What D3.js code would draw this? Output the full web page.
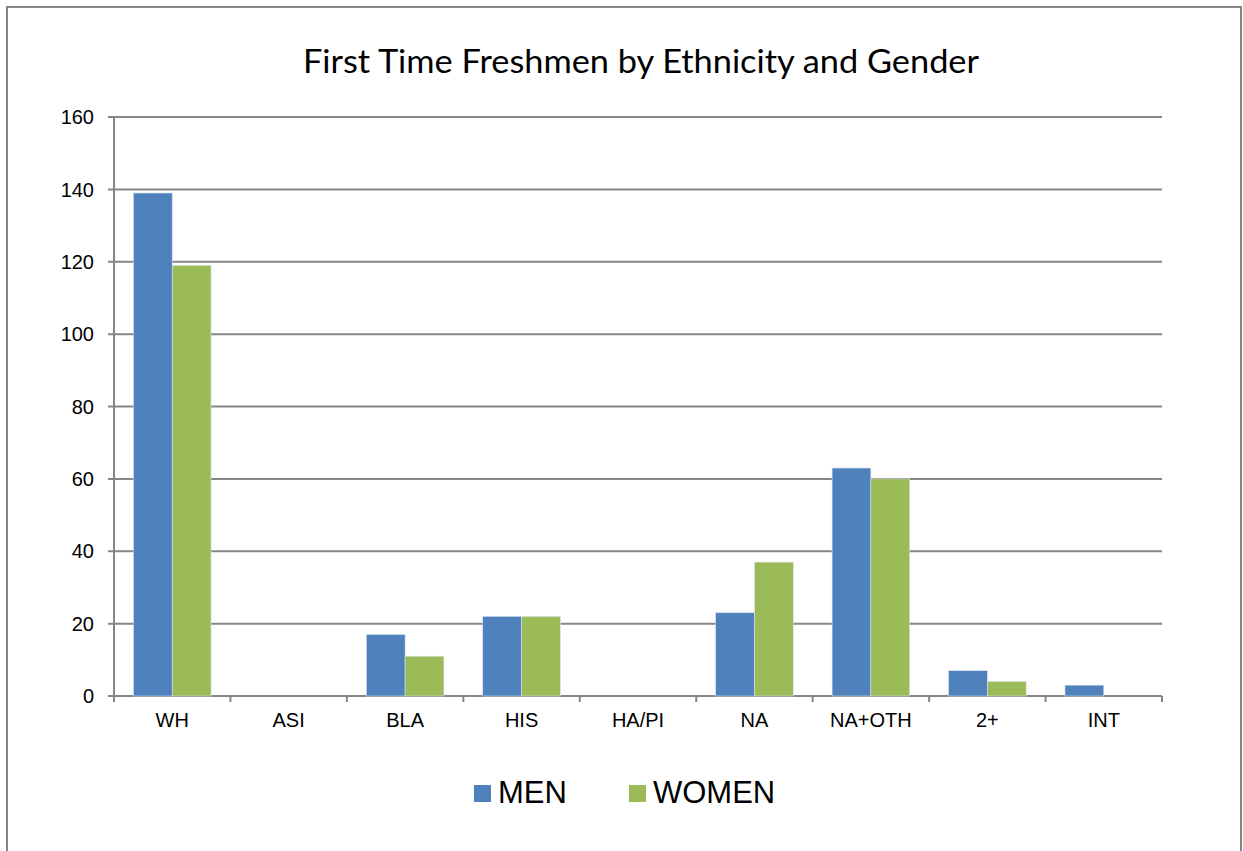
<!DOCTYPE html>
<html>
<head>
<meta charset="utf-8">
<script src="https://cdn.jsdelivr.net/npm/d3@7"></script>
<style>
  html, body { margin: 0; padding: 0; background: #fff; }
  svg { display: block; }
</style>
</head>
<body>
<div id="chart"></div>
<script>
const categories = ["WH", "ASI", "BLA", "HIS", "HA/PI", "NA", "NA+OTH", "2+", "INT"];
const menValues = [139, 0, 17, 22, 0, 23, 63, 7, 3];
const womenValues = [119, 0, 11, 22, 0, 37, 60, 4, 0];
const seriesNames = ["MEN", "WOMEN"];
const yTicks = [0, 20, 40, 60, 80, 100, 120, 140, 160];

const width = 1243;
const height = 851;
const margin = { top: 117, right: 81, bottom: 155, left: 114 };
const innerWidth = width - margin.left - margin.right;
const innerHeight = height - margin.top - margin.bottom;
const colors = ["#4F81BD", "#9BBB59"];
const gridColor = "#868686";
const labelFont = "'Liberation Sans', Arial, sans-serif";

const svg = d3
  .select("#chart")
  .append("svg")
  .attr("width", width)
  .attr("height", height);

// outer frame (bottom edge falls outside the picture)
svg
  .append("path")
  .attr("d", `M7,${height + 5} V7 H1241 V${height + 5}`)
  .attr("fill", "none")
  .attr("stroke", gridColor)
  .attr("stroke-width", 2);

svg
  .append("text")
  .attr("x", 303)
  .attr("y", 73)
  .attr("textLength", 676)
  .attr("lengthAdjust", "spacingAndGlyphs")
  .attr("font-family", "Lato, 'Open Sans', sans-serif")
  .attr("font-size", 33)
  .attr("fill", "#000")
  .text("First Time Freshmen by Ethnicity and Gender");

const root = svg
  .append("g")
  .attr("transform", `translate(${margin.left},${margin.top})`);

const x = d3.scaleBand().domain(categories).range([0, innerWidth]);
const xInner = d3
  .scaleBand()
  .domain(seriesNames)
  .range([x.bandwidth() / 6, (x.bandwidth() * 5) / 6]);
const y = d3.scaleLinear().domain([0, 160]).range([innerHeight, 0]);

// horizontal grid lines
root
  .append("g")
  .selectAll("line")
  .data(yTicks)
  .join("line")
  .attr("x1", -6)
  .attr("x2", innerWidth)
  .attr("y1", (d) => y(d))
  .attr("y2", (d) => y(d))
  .attr("stroke", gridColor)
  .attr("stroke-width", 2);

// y labels
root
  .append("g")
  .selectAll("text")
  .data(yTicks)
  .join("text")
  .attr("x", -20)
  .attr("y", (d) => y(d))
  .attr("dy", "0.36em")
  .attr("text-anchor", "end")
  .attr("font-family", labelFont)
  .attr("font-size", 20)
  .text((d) => d);

// bars
const rows = categories.map((c, i) => ({
  category: c,
  values: [
    { series: "MEN", value: menValues[i] },
    { series: "WOMEN", value: womenValues[i] },
  ],
}));

root
  .append("g")
  .selectAll("g")
  .data(rows)
  .join("g")
  .attr("transform", (d) => `translate(${x(d.category)},0)`)
  .selectAll("rect")
  .data((d) => d.values.filter((v) => v.value > 0))
  .join("rect")
  .attr("x", (d) => xInner(d.series))
  .attr("width", xInner.bandwidth())
  .attr("y", (d) => y(d.value))
  .attr("height", (d) => innerHeight - y(d.value))
  .attr("fill", (d) => colors[seriesNames.indexOf(d.series)])
  .attr("stroke", "#dbe3ee")
  .attr("stroke-width", 0.6);

// y axis line
root
  .append("line")
  .attr("x1", 0)
  .attr("x2", 0)
  .attr("y1", 0)
  .attr("y2", innerHeight)
  .attr("stroke", gridColor)
  .attr("stroke-width", 2);

// x axis ticks
const xTickPos = categories.map((c) => x(c)).concat([innerWidth]);
root
  .append("g")
  .selectAll("line")
  .data(xTickPos)
  .join("line")
  .attr("x1", (d) => d)
  .attr("x2", (d) => d)
  .attr("y1", innerHeight)
  .attr("y2", innerHeight + 6)
  .attr("stroke", gridColor)
  .attr("stroke-width", 2);

// x labels
root
  .append("g")
  .selectAll("text")
  .data(categories)
  .join("text")
  .attr("x", (d) => x(d) + x.bandwidth() / 2)
  .attr("y", innerHeight + 31)
  .attr("text-anchor", "middle")
  .attr("font-family", labelFont)
  .attr("font-size", 20)
  .text((d) => d);

// legend
const legendPos = [474, 629];
const legend = svg
  .append("g")
  .selectAll("g")
  .data(seriesNames)
  .join("g")
  .attr("transform", (d, i) => `translate(${legendPos[i]},785)`);
legend
  .append("rect")
  .attr("width", 17)
  .attr("height", 17)
  .attr("fill", (d, i) => colors[i]);
legend
  .append("text")
  .attr("x", 24)
  .attr("y", 18)
  .attr("font-family", labelFont)
  .attr("font-size", 31)
  .text((d) => d);
</script>
</body>
</html>
